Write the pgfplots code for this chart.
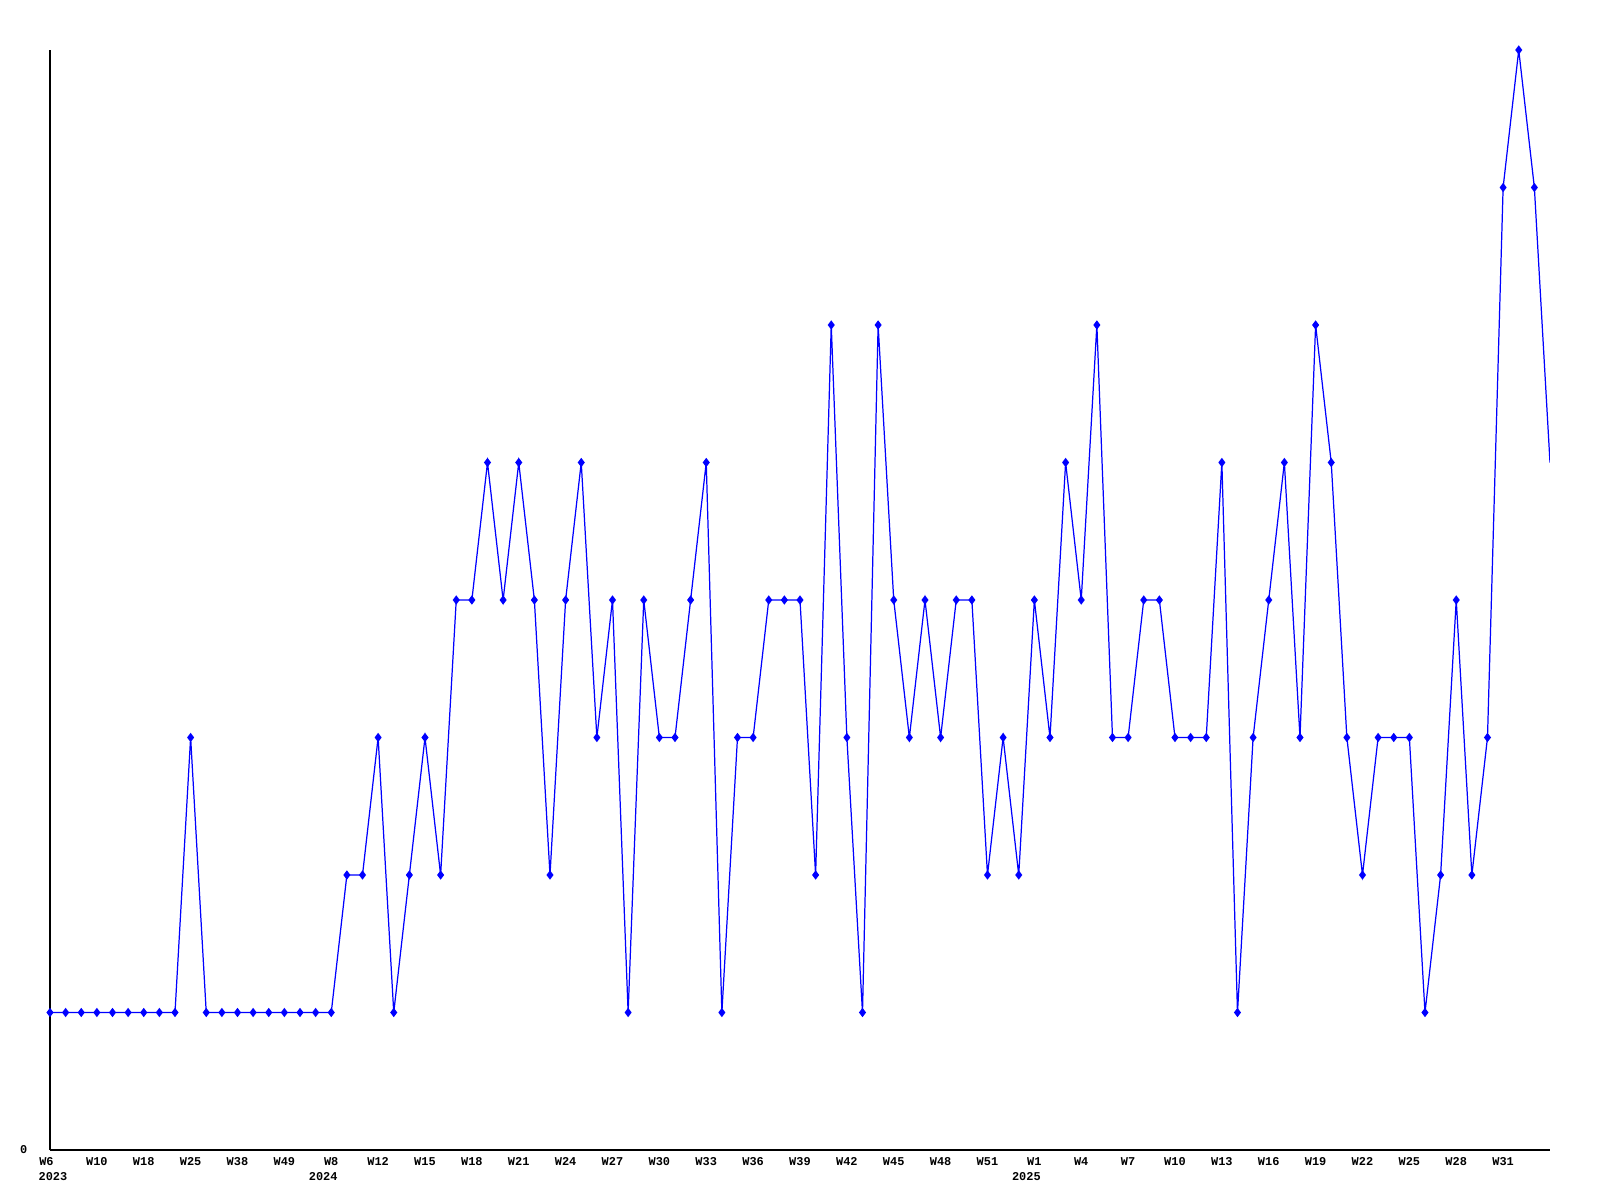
\documentclass[border=0pt]{standalone}
\usepackage{pgfplots}
\usepackage{pgfplotstable}
\pgfplotsset{compat=1.18}
\usepackage{fontspec}
\setmainfont{Liberation Mono}
\definecolor{lineblue}{RGB}{0,0,255}
\pgfplotstableread{
x y
0 1
1 1
2 1
3 1
4 1
5 1
6 1
7 1
8 1
9 3
10 1
11 1
12 1
13 1
14 1
15 1
16 1
17 1
18 1
19 2
20 2
21 3
22 1
23 2
24 3
25 2
26 4
27 4
28 5
29 4
30 5
31 4
32 2
33 4
34 5
35 3
36 4
37 1
38 4
39 3
40 3
41 4
42 5
43 1
44 3
45 3
46 4
47 4
48 4
49 2
50 6
51 3
52 1
53 6
54 4
55 3
56 4
57 3
58 4
59 4
60 2
61 3
62 2
63 4
64 3
65 5
66 4
67 6
68 3
69 3
70 4
71 4
72 3
73 3
74 3
75 5
76 1
77 3
78 4
79 5
80 3
81 6
82 5
83 3
84 2
85 3
86 3
87 3
88 1
89 2
90 4
91 2
92 3
93 7
94 8
95 7
96 5
}\data
\begin{document}
\begin{tikzpicture}
\useasboundingbox (0,0) rectangle (16,12);
\begin{axis}[
  at={(0.5cm,0.5cm)}, anchor=south west,
  scale only axis, width=15cm, height=11cm,
  xmin=0, xmax=96, ymin=0, ymax=8,
  axis x line=bottom, axis y line=left,
  axis line style={-, black, line width=0.35pt},
  xtick={0,3,...,93},
  xticklabels={{\hspace*{-0.7mm}W6\\\hspace*{0.6mm}2023},W10,W18,W25,W38,W49,{W8\\\hspace*{-1.6mm}2024},W12,W15,W18,W21,W24,W27,W30,W33,W36,W39,W42,W45,W48,W51,{W1\\\hspace*{-1.6mm}2025},W4,W7,W10,W13,W16,W19,W22,W25,W28,W31},
  ytick={0}, yticklabels={0},
  major tick length=0pt,
  tick label style={font=\fontsize{3.4}{4.3}\selectfont\bfseries, inner sep=0pt},
  xticklabel style={align=center, anchor=north, yshift=-0.7mm},
  yticklabel style={anchor=east, xshift=-2.2mm},
  clip=true,
]
\addplot[lineblue, line width=0.35pt, mark=none] table[x=x,y=y] {\data};
\addplot[lineblue, only marks, mark=diamond*, mark size=1pt, restrict x to domain=0:95] table[x=x,y=y] {\data};
\end{axis}
\end{tikzpicture}
\end{document}
